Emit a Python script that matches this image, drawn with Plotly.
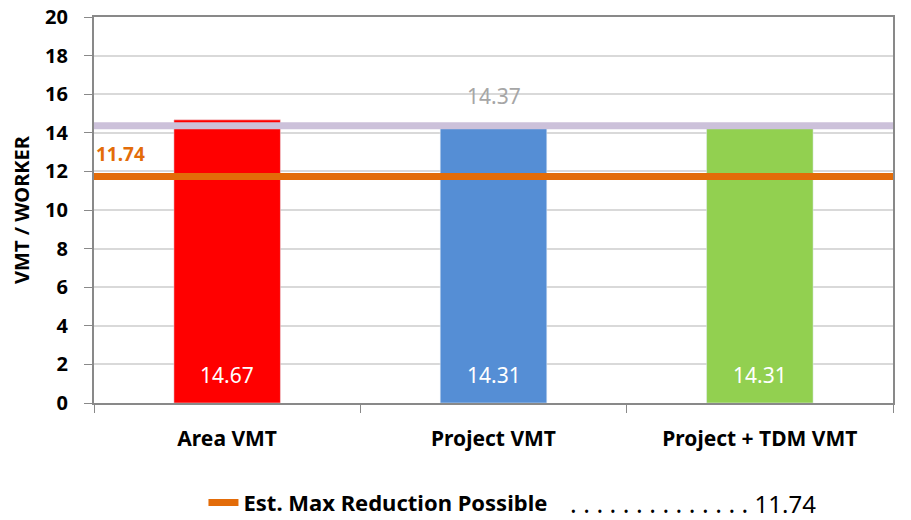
import plotly.graph_objects as go

categories = ["Area VMT", "Project VMT", "Project + TDM VMT"]
vmt_values = [14.67, 14.31, 14.31]
bar_colors = ["#FF0000", "#558ED5", "#92D050"]
bar_labels = ["14.67", "14.31", "14.31"]
baseline_value = 14.37
max_reduction_value = 11.74
y_ticks = [0, 2, 4, 6, 8, 10, 12, 14, 16, 18, 20]

FONT = "Noto Sans"

fig = go.Figure()

fig.add_trace(go.Bar(
    x=categories, y=vmt_values, marker_color=bar_colors, width=0.4,
    showlegend=False, hoverinfo="skip",
))

fig.add_trace(go.Scatter(
    x=[0, 1], y=[baseline_value, baseline_value], xaxis="x2", mode="lines",
    line=dict(color="#CCC1DA", width=7), showlegend=False, hoverinfo="skip",
))
fig.add_trace(go.Scatter(
    x=[0, 1], y=[max_reduction_value, max_reduction_value], xaxis="x2", mode="lines",
    line=dict(color="#E36C09", width=7), name="<b>Est. Max Reduction Possible</b>",
    hoverinfo="skip",
))

for cat, lab in zip(categories, bar_labels):
    fig.add_annotation(
        x=cat, y=0, xref="x", yref="y", yanchor="bottom", yshift=12,
        text=lab, showarrow=False,
        font=dict(color="white", size=21, family=FONT),
    )

fig.add_annotation(
    x=0, xref="paper", xanchor="left", y=max_reduction_value, yref="y",
    yshift=22, text="<b>%.2f</b>" % max_reduction_value, showarrow=False,
    font=dict(color="#E36C09", size=19, family=FONT),
)
fig.add_annotation(
    x=0.5, xref="paper", xanchor="center", y=baseline_value, yref="y",
    yshift=30, text="%.2f" % baseline_value, showarrow=False,
    font=dict(color="#A6A6A6", size=21, family=FONT),
)
fig.add_annotation(
    x=(568 - 94) / 799, xref="paper", xanchor="left",
    y=-0.258, yref="paper", yanchor="middle",
    text="<span style='font-size:25px'>. . . . . . . . . . . . . .</span> %.2f" % max_reduction_value,
    showarrow=False, font=dict(color="#000000", size=24, family=FONT),
)

# page body adds an 8px offset; compensate so the plot area lands at the reference position
fig.update_layout(
    width=903, height=512,
    margin=dict(l=86, r=18, t=9, b=117, autoexpand=False),
    plot_bgcolor="white", paper_bgcolor="white",
    font=dict(family=FONT, color="#000000"),
    bargap=0.6,
    xaxis=dict(
        type="category", tickson="boundaries", ticks="outside", ticklen=8,
        tickcolor="#898989", showline=True, linecolor="#898989", linewidth=2,
        mirror=True, showgrid=False, ticklabelstandoff=16, automargin=False,
        tickfont=dict(size=21, family=FONT, weight="bold"),
    ),
    xaxis2=dict(overlaying="x", range=[0, 1], visible=False),
    yaxis=dict(
        range=[0, 20], tickvals=y_ticks, ticks="outside", ticklen=8,
        tickcolor="#898989", showline=True, linecolor="#898989", linewidth=2,
        mirror=True, gridcolor="#D9D9D9", gridwidth=2, zeroline=False,
        ticklabelstandoff=12, automargin=False, ticklabeloverflow="allow",
        tickfont=dict(size=20, family=FONT, weight="bold"),
        title=dict(text="<b>VMT / WORKER</b>", font=dict(size=20, family=FONT), standoff=14),
    ),
    legend=dict(
        orientation="h", x=0.137, xanchor="left", y=-0.258, yanchor="middle",
        font=dict(size=22, family=FONT), bgcolor="rgba(0,0,0,0)",
    ),
)

fig.write_html("out.html")
